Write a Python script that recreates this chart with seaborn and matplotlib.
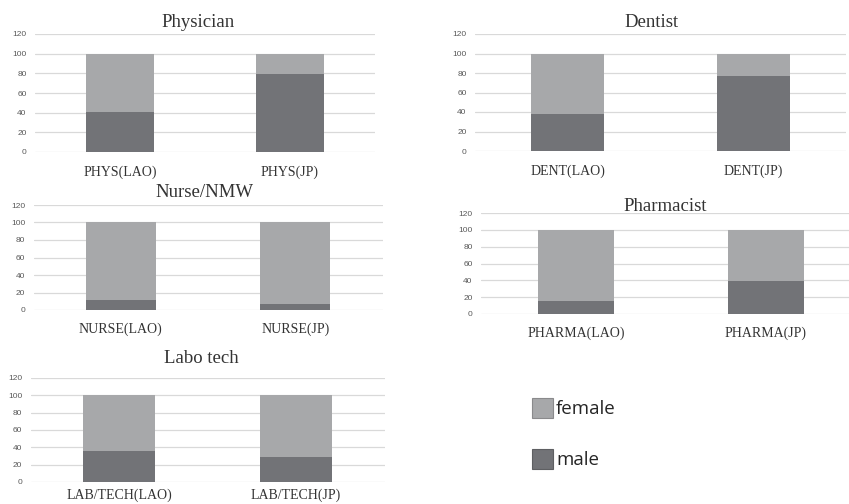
import matplotlib
matplotlib.use('Agg')
import matplotlib.pyplot as plt
import matplotlib.patches as mpatches
import pandas as pd
import seaborn as sns

# data (percent)
panels = ['Physician', 'Dentist', 'Nurse/NMW', 'Pharmacist', 'Labo tech']
categories = [
    ['PHYS(LAO)', 'PHYS(JP)'],
    ['DENT(LAO)', 'DENT(JP)'],
    ['NURSE(LAO)', 'NURSE(JP)'],
    ['PHARMA(LAO)', 'PHARMA(JP)'],
    ['LAB/TECH(LAO)', 'LAB/TECH(JP)'],
]
male = [
    [41, 79],
    [38, 77],
    [12, 7],
    [15, 39],
    [36, 29],
]
female = [
    [59, 21],
    [62, 23],
    [88, 93],
    [85, 61],
    [64, 71],
]
yticks = [0, 20, 40, 60, 80, 100, 120]

female_color = '#a7a8aa'
male_color = '#727377'
grid_color = '#d9d9d9'

sns.set_style('white')
plt.rcParams['font.family'] = ['Liberation Serif', 'DejaVu Serif']

fig = plt.figure(figsize=(8.49, 5.04), dpi=100)
W, H = 849, 504

# axes boxes in pixels: left, right, top (y=120), bottom (y=0)
boxes = [
    (35, 375, 34, 152),
    (475, 846, 34, 151),
    (33.5, 382.5, 205, 310),
    (481, 861, 213, 314),
    (30.5, 384.5, 378, 482),
]
bar_widths = [0.4, 0.395, 0.4, 0.4, 0.41]
# title centre x and baseline y in pixels
title_pos = [(198, 27), (652, 27), (205, 197), (665, 211), (201, 363)]
xlabel_pad = [9.5, 10, 9, 9, 4.5]

for i, name in enumerate(panels):
    l, r, t, b = boxes[i]
    ax = fig.add_axes([l / W, 1 - b / H, (r - l) / W, (b - t) / H])
    df = pd.DataFrame({
        'cat': categories[i],
        'total': [m + f for m, f in zip(male[i], female[i])],
        'male': male[i],
    })
    sns.barplot(data=df, x='cat', y='total', color=female_color, linewidth=0,
                width=bar_widths[i], saturation=1, ax=ax, zorder=2)
    sns.barplot(data=df, x='cat', y='male', color=male_color, linewidth=0,
                width=bar_widths[i], saturation=1, ax=ax, zorder=3)
    ax.set_xlim(-0.5, 1.5)
    ax.set_ylim(0, 120)
    ax.set_yticks(yticks)
    for y in yticks:
        ax.axhline(y, color=grid_color, lw=0.9, zorder=1)
    sns.despine(ax=ax, left=True, bottom=True, right=True, top=True)
    ax.tick_params(axis='y', length=0, pad=6, labelsize=6, labelcolor='#595959')
    ax.tick_params(axis='x', length=0, pad=xlabel_pad[i], labelsize=10, labelcolor='#333333')
    for lbl in ax.get_yticklabels():
        lbl.set_family(['Liberation Sans', 'DejaVu Sans'])
    ax.set_xlabel('')
    ax.set_ylabel('')
    ax.patch.set_alpha(0)
    tx, ty = title_pos[i]
    fig.text(tx / W, 1 - ty / H, name, ha='center', va='baseline',
             fontsize=13.5, color='#333333')

handles = [
    mpatches.Patch(facecolor=female_color, edgecolor='#8a8a8c', lw=0.8, label='female'),
    mpatches.Patch(facecolor=male_color, edgecolor='#5e5f62', lw=0.8, label='male'),
]
fig.legend(handles=handles, loc='upper left', bbox_to_anchor=(524 / W, 1 - 390 / H),
           frameon=False, handlelength=1.15, handleheight=1.3,
           handletextpad=0.15, labelspacing=1.65, borderaxespad=0,
           prop={'family': ['Open Sans', 'DejaVu Sans'], 'size': 13.5})

fig.savefig('out.png', dpi=100)
